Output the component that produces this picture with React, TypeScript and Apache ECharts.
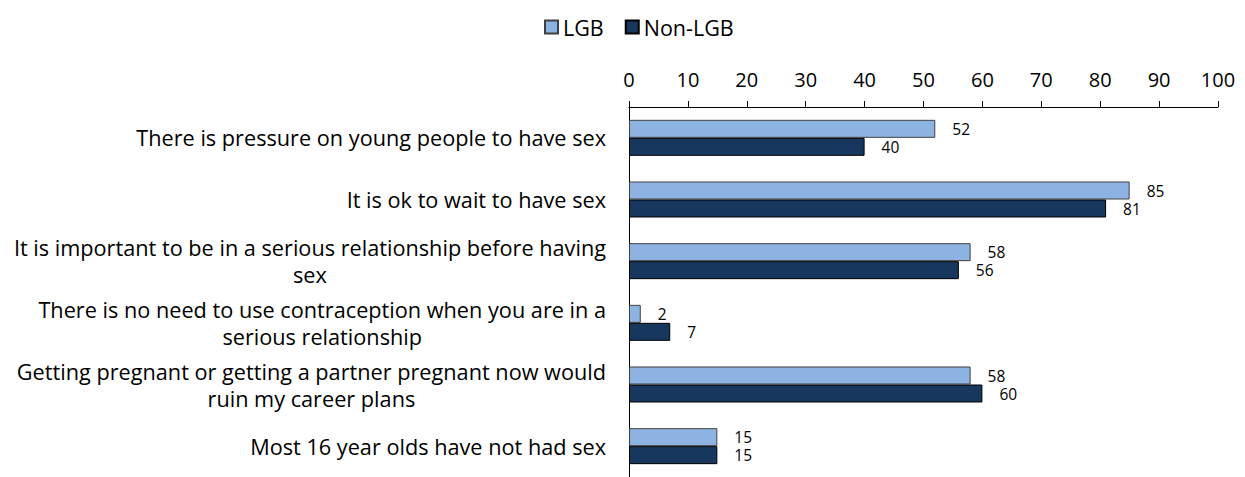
import React, { useEffect, useRef } from "react";
import * as echarts from "echarts";

const categories = [
  "There is pressure on young people to have sex",
  "It is ok to wait to have sex",
  "It is important to be in a serious relationship before having\nsex",
  "There is no need to use contraception when you are in a\nserious relationship",
  "Getting pregnant or getting a partner pregnant now would\nruin my career plans",
  "Most 16 year olds have not had sex",
];
const lgbValues = [52, 85, 58, 2, 58, 15];
const nonLgbValues = [40, 81, 56, 7, 60, 15];
const seriesNames = ["LGB", "Non-LGB"];

const FONT = "'Open Sans', sans-serif";

export default function App() {
  const ref = useRef<HTMLDivElement>(null);
  useEffect(() => {
    if (!ref.current) return;
    const chart = echarts.init(ref.current, undefined, { renderer: "svg" });
    const labelCfg = {
      show: true,
      position: "right" as const,
      distance: 17,
      color: "#000",
      fontSize: 15.5,
      lineHeight: 17,
      fontFamily: FONT,
    };
    chart.setOption({
      animation: false,
      textStyle: { fontFamily: FONT },
      legend: {
        top: 11,
        left: 539,
        icon: "rect",
        itemWidth: 13,
        itemHeight: 13,
        itemGap: 21,
        textStyle: { fontSize: 21.5, color: "#000", fontFamily: FONT },
        data: seriesNames,
      },
      grid: { left: 629, right: 27, top: 107, bottom: -9, containLabel: false },
      xAxis: {
        type: "value",
        position: "top",
        min: 0,
        max: 100,
        interval: 10,
        axisLine: { show: true, lineStyle: { color: "#000", width: 1 } },
        axisTick: { show: true, length: 6, lineStyle: { color: "#000" } },
        axisLabel: { fontSize: 20, color: "#000", margin: 18, fontFamily: FONT },
        splitLine: { show: false },
      },
      yAxis: {
        type: "category",
        inverse: true,
        data: categories,
        axisLine: { show: true, lineStyle: { color: "#000", width: 1 } },
        axisTick: { show: false },
        axisLabel: {
          color: "#000",
          margin: 23,
          align: "right",
          fontFamily: FONT,
          formatter: (v: string) =>
            v
              .split("\n")
              .map((s) => "{c|" + s + "}")
              .join("\n"),
          rich: {
            c: { align: "center", fontSize: 21.7, lineHeight: 27, color: "#000", fontFamily: FONT },
          },
        },
      },
      series: [
        {
          name: seriesNames[0],
          type: "bar",
          data: lgbValues,
          barWidth: 18,
          barGap: "0%",
          itemStyle: { color: "#8DB3E2", borderColor: "#404040", borderWidth: 1 },
          label: labelCfg,
        },
        {
          name: seriesNames[1],
          type: "bar",
          data: nonLgbValues,
          barWidth: 18,
          barGap: "0%",
          itemStyle: { color: "#17375E", borderColor: "#000", borderWidth: 1 },
          label: labelCfg,
        },
      ],
    });
    return () => chart.dispose();
  }, []);
  return (
    <div
      ref={ref}
      style={{ position: "fixed", left: 0, top: 0, width: 1245, height: 477, background: "#fff" }}
    />
  );
}
